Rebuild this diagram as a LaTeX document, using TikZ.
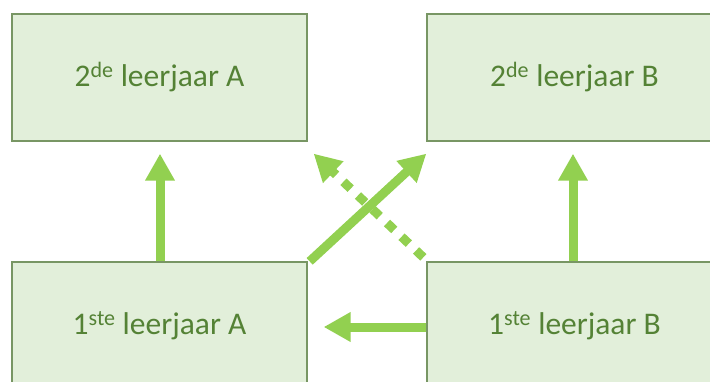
\documentclass[tikz,border=0pt]{standalone}
\usepackage{fontspec}
\setmainfont{Carlito}
\usetikzlibrary{arrows.meta,calc}
\definecolor{boxfill}{RGB}{226,239,218}
\definecolor{boxline}{RGB}{120,150,100}
\definecolor{boxtext}{RGB}{84,130,53}
\definecolor{arrowgreen}{RGB}{146,208,80}
\begin{document}
\begin{tikzpicture}[x=1pt,y=-1pt,
  yearbox/.style={draw=boxline,fill=boxfill,line width=1.3pt,minimum width=295pt,minimum height=127pt,inner sep=0pt,text=boxtext,font=\fontsize{31.5}{38}\selectfont},
  arr/.style={draw=arrowgreen,line width=9pt,-{Triangle[length=27pt,width=28pt]}},
  dotarr/.style={arr,dash pattern=on 10pt off 10pt}]
\useasboundingbox (0,0) rectangle (710,381);
\clip (0,0) rectangle (710,381);
\node[yearbox] (t2a) at (159.5,77.5) {2\textsuperscript{de} leerjaar A};
\node[yearbox] (t2b) at (574.5,77.5) {2\textsuperscript{de} leerjaar B};
\node[yearbox] (b1a) at (159.5,325.5) {1\textsuperscript{ste} leerjaar A};
\node[yearbox] (b1b) at (574.5,325.5) {1\textsuperscript{ste} leerjaar B};
\coordinate (s1) at ($(b1a.north east)+(2,0)$);
\coordinate (e1) at ($(t2b.south west)+(0,12)$);
\coordinate (s2) at ($(b1b.north west)+(-3,-4)$);
\coordinate (e2) at ($(t2a.south east)+(6,12)$);
\draw[arr] ([xshift=0.5pt]b1a.north) -- ([xshift=0.5pt]t2a.south) [shorten >=12pt];
\draw[arr] ([xshift=-1.5pt]b1b.north) -- ([xshift=-1.5pt]t2b.south) [shorten >=12pt];
\draw[arr,shorten >=16pt] ([yshift=-1.5pt]b1b.west) -- ([yshift=-1.5pt]b1a.east);
\draw[arr] (s1) -- (e1);
\draw[dotarr] (s2) -- (e2);
\end{tikzpicture}
\end{document}
